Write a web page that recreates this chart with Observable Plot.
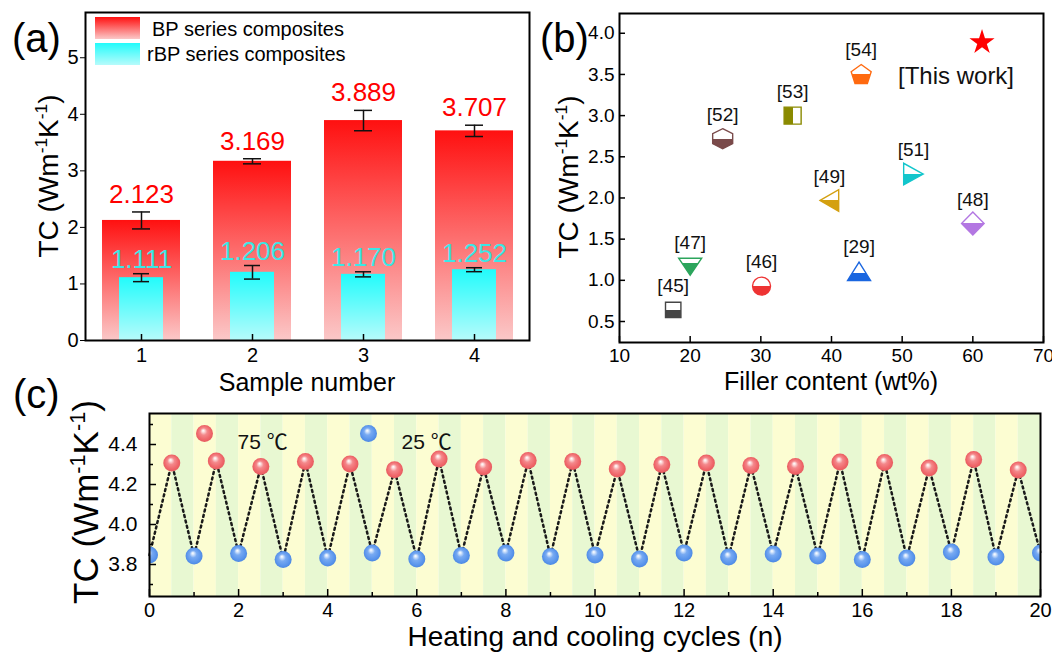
<!DOCTYPE html>
<html><head><meta charset="utf-8">
<script src="https://cdn.jsdelivr.net/npm/d3@7"></script>
<script src="https://cdn.jsdelivr.net/npm/@observablehq/plot@0.6"></script>
<style>
body{margin:0;background:#fff;}
#wrap{position:relative;width:1052px;height:653px;overflow:hidden;background:#fff;font-family:"Liberation Sans",Arial,sans-serif;}
#wrap svg{position:absolute;overflow:visible;}
</style></head><body><div id="wrap"></div>
<script>
// ---------- Panel (a) data ----------
const samples = [1, 2, 3, 4];
const bpTC = [2.123, 3.169, 3.889, 3.707];
const bpErr = [0.15, 0.045, 0.18, 0.1];
const rbpTC = [1.111, 1.206, 1.170, 1.252];
const rbpErr = [0.07, 0.12, 0.045, 0.035];
const aTicksY = [0, 1, 2, 3, 4, 5];

// ---------- Panel (b) data ----------
const refs = ["[45]", "[46]", "[47]", "[29]", "[48]", "[49]", "[51]", "[52]", "[53]", "[54]"];
const fillerContent = [17.6, 30.1, 20.0, 43.9, 60.0, 39.7, 51.6, 24.6, 34.5, 44.2];
const refTC = [0.64, 0.93, 1.165, 1.11, 1.69, 1.97, 2.29, 2.72, 3.0, 3.505];
const thisWorkFiller = [61.3];
const thisWorkTC = [3.89];
const bTicksX = [10, 20, 30, 40, 50, 60, 70];
const bTicksY = [0.5, 1.0, 1.5, 2.0, 2.5, 3.0, 3.5, 4.0];

// ---------- Panel (c) data ----------
const cyclesLow = [0,1,2,3,4,5,6,7,8,9,10,11,12,13,14,15,16,17,18,19,20];
const tcLow = [3.847,3.842,3.855,3.825,3.832,3.858,3.828,3.845,3.857,3.840,3.848,3.828,3.858,3.837,3.853,3.842,3.825,3.832,3.862,3.837,3.857];
const cyclesHigh = [0.5,1.5,2.5,3.5,4.5,5.5,6.5,7.5,8.5,9.5,10.5,11.5,12.5,13.5,14.5,15.5,16.5,17.5,18.5,19.5];
const tcHigh = [4.308,4.317,4.290,4.315,4.303,4.274,4.327,4.287,4.320,4.315,4.278,4.300,4.307,4.295,4.290,4.312,4.310,4.283,4.325,4.273];
const cTicksX = [0, 2, 4, 6, 8, 10, 12, 14, 16, 18, 20];
const cMinorX = [1, 3, 5, 7, 9, 11, 13, 15, 17, 19];
const cTicksY = [3.8, 4.0, 4.2, 4.4];
const cMinorY = [3.7, 3.9, 4.1, 4.3, 4.5];

// ---------- styles ----------
const FONT = '"Liberation Sans", Arial, sans-serif';
const refColors = ["#454545", "#ee3333", "#2ca55c", "#1a66e0", "#b377e2", "#d4a010", "#12c6cc", "#7a4a4a", "#8a8a00", "#ff6a10"];
const refSplit = [0.5, 0.5, 0.3, 0.62, 0.5, 0.5, 0.5, 0.5, 0.5, 0.48];
function poly(pts) {
  return {draw(ctx) { ctx.moveTo(pts[0][0], pts[0][1]); for (let i = 1; i < pts.length; i++) ctx.lineTo(pts[i][0], pts[i][1]); ctx.closePath(); }};
}
const pent = d3.range(5).map(k => { const a = -Math.PI / 2 + k * 2 * Math.PI / 5; return [10.5 * Math.cos(a), 10.5 * Math.sin(a) + 1]; });
const refShapes = [
  poly([[-7.7,-7.7],[7.7,-7.7],[7.7,7.7],[-7.7,7.7]]),
  {draw(ctx) { ctx.moveTo(9, 0); ctx.arc(0, 0, 9, 0, 2 * Math.PI); ctx.closePath(); }},
  poly([[-11.5,-8.5],[11.5,-8.5],[0,8.5]]),
  poly([[0,-9.2],[11.5,9.2],[-11.5,9.2]]),
  poly([[0,-11.5],[11.3,0],[0,11.5],[-11.3,0]]),
  poly([[-9.3,0],[9.3,-10.8],[9.3,10.8]]),
  poly([[9.8,0],[-9.8,-10.8],[-9.8,10.8]]),
  poly([[0,-10],[10,-5],[10,5],[0,10],[-10,5],[-10,-5]]),
  poly([[-8.5,-8.5],[8.5,-8.5],[8.5,8.5],[-8.5,8.5]]),
  poly(pent)
];

// ---------- gradients ----------
const wrap = d3.select("#wrap");
const defs = wrap.append("svg").attr("width", 0).attr("height", 0).style("left", "0px").style("top", "0px").append("defs");
function lin(id, stops, horiz) {
  const g = defs.append("linearGradient").attr("id", id).attr("x1", 0).attr("y1", 0).attr("x2", horiz ? 1 : 0).attr("y2", horiz ? 0 : 1);
  stops.forEach(([o, c]) => g.append("stop").attr("offset", o).attr("stop-color", c));
}
lin("gRed", [[0, "#ff1010"], [1, "#fbc8c8"]]);
lin("gCyan", [[0, "#22fbfb"], [1, "#b6fbfb"]]);
refColors.forEach((c, i) => {
  if (i === 8) lin("half" + i, [[0, c], [0.5, c], [0.5, "#fff"], [1, "#fff"]], true);
  else lin("half" + i, [[0, "#fff"], [refSplit[i], "#fff"], [refSplit[i], c], [1, c]]);
});
function rad(id, stops) {
  const g = defs.append("radialGradient").attr("id", id).attr("cx", 0.5).attr("cy", 0.5).attr("r", 0.55).attr("fx", 0.42).attr("fy", 0.32);
  stops.forEach(([o, c]) => g.append("stop").attr("offset", o).attr("stop-color", c));
}
rad("ballRed", [[0, "#ffffff"], [0.12, "#fde2e2"], [0.38, "#f4888b"], [0.75, "#ef6569"], [1, "#e2585c"]]);
rad("ballBlue", [[0, "#ffffff"], [0.12, "#dceafd"], [0.38, "#78aaf2"], [0.75, "#5a95ec"], [1, "#4783df"]]);

function place(svg, left, top) {
  d3.select(svg).style("left", left + "px").style("top", top + "px");
  wrap.node().appendChild(svg);
  return d3.select(svg);
}
function tcTitle(g, x, y, fs) {
  const t = g.append("text").attr("transform", `translate(${x},${y}) rotate(-90)`).attr("text-anchor", "middle")
    .attr("font-size", fs).attr("font-family", FONT).attr("fill", "#000");
  const sup = fs * 0.62, up = fs * 0.38;
  t.append("tspan").text("TC (Wm");
  t.append("tspan").attr("font-size", sup).attr("dy", -up).text("-1");
  t.append("tspan").attr("dy", up).text("K");
  t.append("tspan").attr("font-size", sup).attr("dy", -up).text("-1");
  t.append("tspan").attr("dy", up).text(")");
}
function txt(g, x, y, s, fs, anchor = "start") {
  g.append("text").attr("x", x).attr("y", y).attr("font-size", fs).attr("font-family", FONT).attr("text-anchor", anchor).attr("fill", "#000").text(s);
}

// ---------- Panel (a) ----------
const dataA = samples.map((s, i) => ({s, bp: bpTC[i], bpE: bpErr[i], rbp: rbpTC[i], rbpE: rbpErr[i]}));
const fmt3 = d3.format(".3f");
const plotA = Plot.plot({
  width: 540, height: 400, marginLeft: 85, marginRight: 11, marginTop: 12, marginBottom: 60,
  style: {background: "transparent", fontFamily: FONT, fontSize: "20px", color: "#000", overflow: "visible"},
  x: {type: "band", domain: samples, paddingInner: 0.3, paddingOuter: 0.15, label: null},
  y: {domain: [0, 5.8], label: null},
  marks: [
    Plot.barY(dataA, {x: "s", y: "bp", fill: "url(#gRed)"}),
    Plot.barY(dataA, {x: "s", y: "rbp", fill: "url(#gCyan)", insetLeft: 17, insetRight: 17}),
    Plot.ruleX(dataA, {x: "s", y1: d => d.bp - d.bpE, y2: d => d.bp + d.bpE, stroke: "#111", strokeWidth: 1.5}),
    Plot.tickY(dataA, {x: "s", y: d => d.bp - d.bpE, insetLeft: 30, insetRight: 30, stroke: "#111", strokeWidth: 1.5}),
    Plot.tickY(dataA, {x: "s", y: d => d.bp + d.bpE, insetLeft: 30, insetRight: 30, stroke: "#111", strokeWidth: 1.5}),
    Plot.ruleX(dataA, {x: "s", y1: d => d.rbp - d.rbpE, y2: d => d.rbp + d.rbpE, stroke: "#111", strokeWidth: 1.5}),
    Plot.tickY(dataA, {x: "s", y: d => d.rbp - d.rbpE, insetLeft: 31, insetRight: 31, stroke: "#111", strokeWidth: 1.5}),
    Plot.tickY(dataA, {x: "s", y: d => d.rbp + d.rbpE, insetLeft: 31, insetRight: 31, stroke: "#111", strokeWidth: 1.5}),
    Plot.text(dataA, {x: "s", y: d => d.bp + d.bpE, text: d => fmt3(d.bp), dy: -9, lineAnchor: "bottom", fill: "#ff0000", fontSize: 26}),
    Plot.text(dataA, {x: "s", y: d => d.rbp + d.rbpE, text: d => fmt3(d.rbp), dy: -6, lineAnchor: "bottom", fill: "#3ce6e6", fontSize: 26}),
    Plot.axisY({ticks: aTicksY, tickSize: 5, tickPadding: 2, tickFormat: d3.format("d"), label: null}),
    Plot.axisX({tickSize: 0, tickPadding: 7, label: null}),
    Plot.tickX(samples, {x: d => d, insetTop: 322, stroke: "#000", strokeWidth: 1.5}),
    Plot.frame({stroke: "#000", strokeWidth: 2})
  ]
});
const gA = place(plotA, 0, 0);
txt(gA, 12, 52, "(a)", 40);
tcTitle(gA, 58, 176, 28);
txt(gA, 307, 391, "Sample number", 25, "middle");
gA.append("rect").attr("x", 95).attr("y", 17).attr("width", 45).attr("height", 22).attr("fill", "url(#gRed)");
gA.append("rect").attr("x", 95).attr("y", 43).attr("width", 45).attr("height", 22).attr("fill", "url(#gCyan)");
txt(gA, 152, 36, "BP series composites", 20);
txt(gA, 147, 61, "rBP series composites", 20);

// ---------- Panel (b) ----------
const idx = refs.map((_, i) => i);
const plotB = Plot.plot({
  width: 512, height: 400, marginLeft: 79, marginRight: 9, marginTop: 13, marginBottom: 58,
  style: {background: "transparent", fontFamily: FONT, fontSize: "19px", color: "#000", overflow: "visible"},
  x: {domain: [10, 70], label: null},
  y: {domain: [0.245, 4.24], label: null},
  marks: [
    ...idx.map(i => Plot.dot([i], {x: j => fillerContent[j], y: j => refTC[j], symbol: refShapes[i], r: 8,
      fill: `url(#half${i})`, stroke: refColors[i], strokeWidth: 1.4})),
    Plot.text(idx, {x: j => fillerContent[j], y: j => refTC[j], text: j => refs[j], dy: -24, fontSize: 19, fill: "#111"}),
    Plot.dot(thisWorkFiller, {x: d => d, y: (d, i) => thisWorkTC[i], symbol: "star", r: 7.9, fill: "#ff0000", stroke: "none"}),
    Plot.text(thisWorkFiller, {x: d => d, y: (d, i) => thisWorkTC[i], text: () => "[This work]", dx: -26, dy: 34, fontSize: 24, fill: "#111"}),
    Plot.axisX({ticks: bTicksX, tickSize: 0, tickPadding: 6, label: null}),
    Plot.axisY({ticks: bTicksY, tickSize: 0, tickPadding: 5, tickFormat: d3.format(".1f"), label: null}),
    Plot.tickX(bTicksX, {x: d => d, insetTop: 323, stroke: "#000", strokeWidth: 1.5}),
    Plot.tickY(bTicksY, {y: d => d, insetRight: 418, stroke: "#000", strokeWidth: 1.5}),
    Plot.frame({stroke: "#000", strokeWidth: 2})
  ]
});
const gB = place(plotB, 540, 0);
txt(gB, 0, 52, "(b)", 40);
tcTitle(gB, 38, 177, 28);
txt(gB, 291, 390, "Filler content (wt%)", 25, "middle");

// ---------- Panel (c) ----------
const stripes = d3.range(40).map(k => ({a: k * 0.5, b: k * 0.5 + 0.5, odd: k % 2}));
const low = cyclesLow.map((x, i) => ({x, y: tcLow[i]}));
const high = cyclesHigh.map((x, i) => ({x, y: tcHigh[i]}));
const seq = [...low, ...high].sort((p, q) => p.x - q.x);
const plotC = Plot.plot({
  width: 1052, height: 293, marginLeft: 149, marginRight: 12, marginTop: 53, marginBottom: 57,
  style: {background: "transparent", fontFamily: FONT, fontSize: "20px", color: "#000", overflow: "visible"},
  x: {domain: [0, 20], label: null},
  y: {domain: [3.64, 4.555], label: null},
  marks: [
    Plot.rect(stripes, {x1: "a", x2: "b", fill: d => d.odd ? "#e8f8d2" : "#fcfdd2"}),
    Plot.line(seq, {x: "x", y: "y", stroke: "#1a1a1a", strokeWidth: 2.5, strokeDasharray: "2,3.5"}),
    Plot.dot(low, {x: "x", y: "y", r: 8.5, fill: "url(#ballBlue)", clip: true}),
    Plot.dot(high, {x: "x", y: "y", r: 8.5, fill: "url(#ballRed)", clip: true}),
    Plot.dot([0], {frameAnchor: "top-left", dx: 55, dy: 20, r: 8.5, fill: "url(#ballRed)"}),
    Plot.dot([0], {frameAnchor: "top-left", dx: 219, dy: 20, r: 8.5, fill: "url(#ballBlue)"}),
    Plot.text(["75 \u2103"], {frameAnchor: "top-left", dx: 88, dy: 21, text: d => d, textAnchor: "start", fontSize: 21, fontFamily: '"Liberation Sans", "Noto Sans CJK SC", sans-serif', fill: "#111"}),
    Plot.text(["25 \u2103"], {frameAnchor: "top-left", dx: 252, dy: 21, text: d => d, textAnchor: "start", fontSize: 21, fontFamily: '"Liberation Sans", "Noto Sans CJK SC", sans-serif', fill: "#111"}),
    Plot.axisX({ticks: cTicksX, tickSize: 0, tickPadding: 6, label: null}),
    Plot.axisY({ticks: cTicksY, tickSize: 0, tickPadding: 12, tickFormat: d3.format(".1f"), fontSize: 21, label: null}),
    Plot.tickX(cTicksX, {x: d => d, insetTop: 176, stroke: "#000", strokeWidth: 1.5}),
    Plot.tickX(cMinorX, {x: d => d, insetTop: 179, stroke: "#000", strokeWidth: 1.5}),
    Plot.tickY(cTicksY, {y: d => d, insetRight: 884, stroke: "#000", strokeWidth: 1.5}),
    Plot.tickY(cMinorY, {y: d => d, insetRight: 887, stroke: "#000", strokeWidth: 1.5}),
    Plot.frame({stroke: "#000", strokeWidth: 2})
  ]
});
const gC = place(plotC, 0, 360);
txt(gC, 13, 48, "(c)", 40);
tcTitle(gC, 98, 142, 35);
txt(gC, 595, 286, "Heating and cooling cycles (n)", 28, "middle");
</script></body></html>
